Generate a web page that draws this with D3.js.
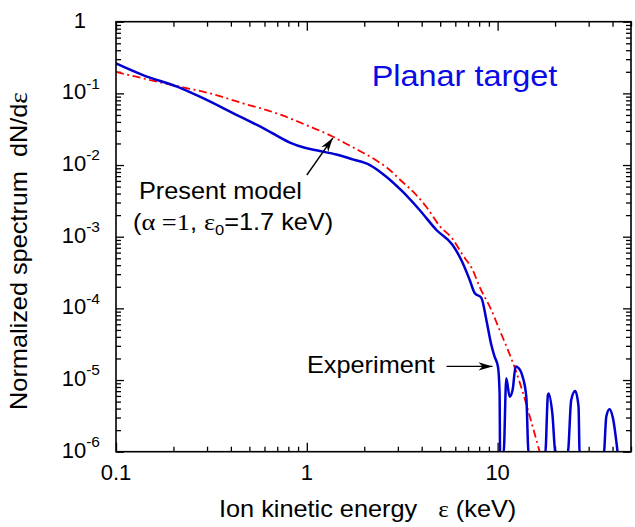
<!DOCTYPE html>
<html>
<head>
<meta charset="utf-8">
<script src="https://cdn.jsdelivr.net/npm/d3@7"></script>
<style>
  body { margin: 0; background: #fff; }
  text { font-family: "Liberation Sans", Arial, Helvetica, sans-serif; fill: #000; white-space: pre; }
</style>
</head>
<body>
<svg id="chart" width="635" height="527"></svg>
<script>
// experiment (blue, solid) : ion energy in keV, normalized dN/de ; 0 = no counts
var expEnergy = [0.1, 0.1385, 0.209, 0.275, 0.41, 0.617, 0.815,
  0.976, 1.17, 1.43, 1.74, 2.14, 2.61, 3.18, 3.90, 4.78,
  5.81, 6.56, 7.14, 7.58, 8.22, 8.73, 9.27, 9.64, 10.04, 10.24, 10.3,
  10.75, 11.1, 11.56, 11.98, 12.43, 12.88, 13.52, 14.13, 14.53,
  17.77, 18.34, 18.5, 19.34, 20.13,
  23.3, 24.3, 25.5, 26.55, 26.9,
  36.0, 37.1, 38.6, 40.2, 42.6];
var expValue = [0.262, 0.180, 0.124, 0.0898, 0.0532, 0.0308, 0.0206,
  0.0174, 0.0157, 0.0140, 0.0120, 0.0100, 0.00688, 0.00425, 0.00236, 0.00124,
  0.000766, 0.00043, 0.000249, 0.000164, 0.00014, 6.89e-5, 3.08e-5, 2.12e-5, 1.54e-5, 6.59e-6, 0,
  0, 1.06e-5, 5.86e-6, 7.26e-6, 1.54e-5, 1.47e-5, 1.11e-5, 5.86e-6, 0,
  0, 6.18e-6, 6.5e-6, 3.47e-6, 0,
  0, 5.27e-6, 7.03e-6, 4.25e-6, 0,
  0, 3.08e-6, 3.91e-6, 2.95e-6, 0];

// present model (red, dash-dot), alpha = 1, e0 = 1.7 keV
var modelEnergy = [0.1, 0.1385, 0.208, 0.31, 0.462, 0.694, 1.04, 1.347, 1.581, 1.895,
  2.317, 2.72, 3.13, 3.677, 4.234, 4.97, 5.81, 6.56, 7.40, 8.05,
  9.27, 10.24, 11.32, 12.53, 13.68, 15.07, 16.6];
var modelValue = [0.1987, 0.162, 0.1267, 0.1002, 0.0727, 0.0527, 0.0343, 0.0254, 0.0203, 0.0157,
  0.01157, 0.00853, 0.00599, 0.00403, 0.0026, 0.00141, 0.000929, 0.000556, 0.000343, 0.000199,
  9.49e-5, 4.99e-5, 2.63e-5, 1.29e-5, 6.18e-6, 2.52e-6, 1.0e-6];

var xMajor = [0.1, 1, 10];
var xMajorLabels = ["0.1", "1", "10"];
var yExponents = [0, -1, -2, -3, -4, -5, -6];

var svg = d3.select("#chart");
var margin = { top: 21.7, right: 4, bottom: 75.3, left: 116 };
var W = 635, H = 527;
var x0 = margin.left, x1 = W - margin.right, y0 = H - margin.bottom, y1 = margin.top;

var x = d3.scaleLog().domain([0.1, 50]).range([x0, x1]);
var y = d3.scaleLog().domain([1e-6, 1]).range([y0, y1]);

// minor ticks 2..9 per decade
var xMinor = [];
[0.1, 1, 10].forEach(function(d) {
  for (var k = 2; k <= 9; k++) { if (k * d <= 50) xMinor.push(k * d); }
});
var yMajor = yExponents.map(function(e) { return Math.pow(10, e); });
var yMinor = [];
yExponents.slice(1).forEach(function(e) {
  for (var k = 2; k <= 9; k++) yMinor.push(k * Math.pow(10, e));
});

svg.append("defs").append("clipPath").attr("id", "plot-clip")
  .append("rect").attr("x", x0).attr("y", y1).attr("width", x1 - x0).attr("height", y0 - y1);

function noDomain(g) { g.select(".domain").remove(); g.selectAll("line").attr("stroke", "#000").attr("stroke-width", 1.3); }

var axes = [
  { gen: d3.axisBottom, vals: xMinor, size: -5, tr: "translate(0," + y0 + ")", sc: x },
  { gen: d3.axisBottom, vals: xMajor, size: -9, tr: "translate(0," + y0 + ")", sc: x },
  { gen: d3.axisTop, vals: xMinor, size: -5, tr: "translate(0," + y1 + ")", sc: x },
  { gen: d3.axisTop, vals: xMajor, size: -9, tr: "translate(0," + y1 + ")", sc: x },
  { gen: d3.axisLeft, vals: yMinor, size: -5, tr: "translate(" + x0 + ",0)", sc: y },
  { gen: d3.axisLeft, vals: yMajor, size: -8, tr: "translate(" + x0 + ",0)", sc: y },
  { gen: d3.axisRight, vals: yMinor, size: -5, tr: "translate(" + x1 + ",0)", sc: y },
  { gen: d3.axisRight, vals: yMajor, size: -8, tr: "translate(" + x1 + ",0)", sc: y }
];
axes.forEach(function(a) {
  svg.append("g").attr("transform", a.tr)
    .call(a.gen(a.sc).tickValues(a.vals).tickSize(a.size).tickFormat(""))
    .call(noDomain);
});

// curves
var plot = svg.append("g").attr("clip-path", "url(#plot-clip)");

var modelLine = d3.line()
  .x(function(d) { return x(d[0]); })
  .y(function(d) { return y(d[1]); })
  .curve(d3.curveMonotoneX);
plot.append("path")
  .datum(d3.zip(modelEnergy, modelValue))
  .attr("d", modelLine)
  .attr("fill", "none")
  .attr("stroke", "#ff0000")
  .attr("stroke-width", 1.8)
  .attr("stroke-dasharray", "8,3.5,2,3.5");

// empty bins are drawn just under the bottom edge
var expLine = d3.line()
  .x(function(d) { return x(d[0]); })
  .y(function(d) { return y(Math.max(d[1], 0.95e-6)); })
  .curve(d3.curveMonotoneX);
plot.append("path")
  .datum(d3.zip(expEnergy, expValue))
  .attr("d", expLine)
  .attr("fill", "none")
  .attr("stroke", "#0000d2")
  .attr("stroke-width", 2.5)
  .attr("stroke-linejoin", "round");

// frame
svg.append("rect")
  .attr("x", x0).attr("y", y1).attr("width", x1 - x0).attr("height", y0 - y1)
  .attr("fill", "none").attr("stroke", "#000").attr("stroke-width", 1.6);

// tick labels
svg.selectAll(".xlab").data(xMajor).enter().append("text")
  .attr("class", "xlab")
  .attr("x", function(d) { return x(d); })
  .attr("y", y0 + 28.5)
  .attr("text-anchor", "middle")
  .style("font-size", "22px")
  .text(function(d, i) { return xMajorLabels[i]; });

yExponents.forEach(function(e) {
  var v = Math.pow(10, e);
  var t = svg.append("text")
    .attr("y", y(v) + 5.8)
    .attr("text-anchor", "end")
    .style("font-size", "22px");
  if (e === 0) {
    t.attr("x", 86).text("1");
  } else {
    t.attr("x", 100);
    t.append("tspan").text("10");
    t.append("tspan").attr("dy", -10.5).style("font-size", "15.5px").text(String(e));
  }
});

// stretched label helper (reference text is wider than Arial metrics)
function label(px, py, size, anchor, rot) {
  return svg.append("text")
    .attr("transform", "translate(" + px + "," + py + ")" + (rot ? " rotate(" + rot + ")" : "") + " scale(1.1,1)")
    .attr("text-anchor", anchor)
    .style("font-size", size + "px");
}
var serif = "'Liberation Serif','Times New Roman',serif";

// axis titles
var xt = label(219, 517, 23, "start");
xt.append("tspan").text("Ion kinetic energy   ");
xt.append("tspan").style("font-family", serif).text("ε");
xt.append("tspan").text(" (keV)");

var yt = label(27, 251, 23, "middle", -90);
yt.append("tspan").text("Normalized spectrum  dN/d");
yt.append("tspan").style("font-family", serif).style("font-size", "25px").text("ε");

// panel title
label(464.5, 86, 29.5, "middle").style("fill", "#0a0ae6").text("Planar target");

// annotations
label(139, 199, 23, "start").text("Present model");
var pm = label(133, 230, 23, "start");
pm.append("tspan").text("(");
pm.append("tspan").style("font-family", serif).style("font-size", "24px").text("α =1");
pm.append("tspan").text(", ");
pm.append("tspan").style("font-family", serif).style("font-size", "24px").text("ε");
pm.append("tspan").attr("dy", 5).style("font-size", "15px").text("0");
pm.append("tspan").attr("dy", -5).text("=1.7 keV)");

label(307, 373, 23, "start").text("Experiment");

// arrows (anchored in data space)
function arrow(from, to) {
  var ax = x(from[0]), ay = y(from[1]), bx = x(to[0]), by = y(to[1]);
  svg.append("line").attr("x1", ax).attr("y1", ay).attr("x2", bx).attr("y2", by)
    .attr("stroke", "#000").attr("stroke-width", 1.4);
  var ang = Math.atan2(by - ay, bx - ax), L = 14, w = 4.2, n = 10;
  var cx = Math.cos(ang), sy = Math.sin(ang);
  var p = [
    [bx, by],
    [bx - L * cx - w * sy, by - L * sy + w * cx],
    [bx - n * cx, by - n * sy],
    [bx - L * cx + w * sy, by - L * sy - w * cx]
  ];
  svg.append("path").attr("d", "M" + p.join("L") + "Z").attr("fill", "#000");
}
arrow([1.0, 0.00726], [1.368, 0.0238]);
arrow([5.4, 1.55e-5], [9.4, 1.55e-5]);
</script>
</body>
</html>
